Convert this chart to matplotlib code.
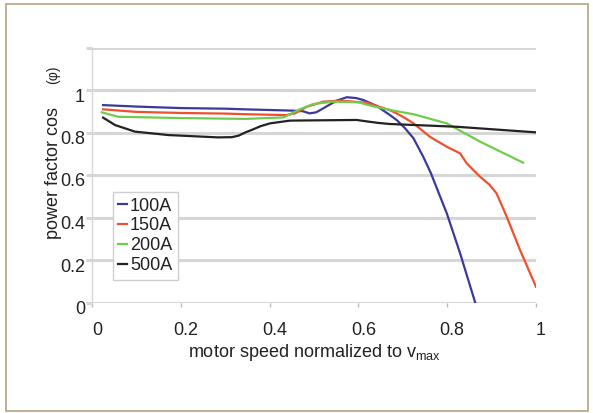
import numpy as np
import matplotlib.pyplot as plt
import matplotlib.transforms as mtransforms
from matplotlib.patches import Rectangle

# power factor vs normalized motor speed

x_100 = [0.025, 0.1, 0.2, 0.3, 0.345, 0.45, 0.475, 0.49, 0.505, 0.521, 0.551, 0.574, 0.595, 0.611,
         0.641, 0.671, 0.686, 0.705, 0.724, 0.746, 0.763, 0.78, 0.799, 0.829, 0.863]
y_100 = [0.929, 0.922, 0.915, 0.912, 0.909, 0.903, 0.900, 0.890, 0.895, 0.914, 0.950, 0.966, 0.962, 0.953,
         0.925, 0.882, 0.859, 0.820, 0.773, 0.686, 0.610, 0.520, 0.420, 0.232, 0.0]

x_150 = [0.025, 0.1, 0.2, 0.3, 0.345, 0.438, 0.457, 0.484, 0.521, 0.559, 0.619, 0.671,
         0.686, 0.705, 0.724, 0.761, 0.799, 0.829, 0.844, 0.874, 0.896, 0.911, 0.934, 0.964, 1.0]
y_150 = [0.909, 0.897, 0.892, 0.889, 0.886, 0.882, 0.890, 0.921, 0.945, 0.950, 0.940, 0.905,
         0.890, 0.868, 0.843, 0.780, 0.733, 0.702, 0.655, 0.592, 0.553, 0.514, 0.404, 0.247, 0.074]

x_200 = [0.022, 0.059, 0.2, 0.345, 0.431, 0.45, 0.468, 0.498, 0.543, 0.6, 0.63, 0.671,
         0.724, 0.799, 0.874, 0.971]
y_200 = [0.895, 0.874, 0.868, 0.864, 0.871, 0.89, 0.909, 0.934, 0.945, 0.942, 0.925, 0.906,
         0.886, 0.843, 0.757, 0.658]

x_500 = [0.025, 0.052, 0.097, 0.172, 0.284, 0.315, 0.33, 0.345, 0.363, 0.38, 0.401, 0.446, 0.596, 0.62,
         0.645, 0.671, 0.821, 0.998]
y_500 = [0.870, 0.835, 0.804, 0.788, 0.777, 0.778, 0.785, 0.800, 0.815, 0.830, 0.843, 0.856, 0.859, 0.852,
         0.845, 0.840, 0.827, 0.801]

labels = ["100A", "150A", "200A", "500A"]
colors = ["#3b3a9c", "#f0502e", "#6fcc4c", "#222222"]

plt.rcParams['font.family'] = ['Liberation Sans', 'DejaVu Sans']
text_col = "#222222"
grid_col = "#d6d6d6"

fig = plt.figure(figsize=(5.93, 4.13), dpi=100)
ax = fig.add_axes([92 / 593, 1 - 302.5 / 413, 444 / 593, 255 / 413])

# tan frame round the whole picture
fig.patches.append(Rectangle((6 / 593, 2 / 413), 582 / 593, 407 / 413, transform=fig.transFigure,
                             fill=False, edgecolor="#bba98a", linewidth=1.3))

for xs, ys, lab, c in zip([x_100, x_150, x_200, x_500], [y_100, y_150, y_200, y_500], labels, colors):
    ax.plot(xs, ys, color=c, linewidth=1.6, label=lab)

ax.set_xlim(0, 1)
ax.set_ylim(0, 1.2)
ax.set_xticks([0, 0.2, 0.4, 0.6, 0.8, 1])
ax.set_xticklabels(["0", "0.2", "0.4", "0.6", "0.8", "1"])
ax.set_yticks([0, 0.2, 0.4, 0.6, 0.8, 1, 1.2])
ax.set_yticklabels(["0", "0.2", "0.4", "0.6", "0.8", "1", ""])
ax.grid(axis="y", color=grid_col, linewidth=2.2)
ax.set_axisbelow(True)

for s in ["top", "right", "bottom"]:
    ax.spines[s].set_visible(False)
ax.spines["left"].set_color(grid_col)
ax.spines["left"].set_linewidth(1)

ax.tick_params(axis="y", length=4, color=grid_col, width=2.2, pad=1, labelsize=13, labelcolor=text_col)
ax.tick_params(axis="x", length=3, color="#bbbbbb", width=1, pad=11, labelsize=13, labelcolor=text_col)

# y labels sit a little below their gridlines in the reference
shift = mtransforms.ScaledTranslation(0, -5 / 100, fig.dpi_scale_trans)
for t in ax.get_yticklabels():
    t.set_transform(t.get_transform() + shift)
shift_x = mtransforms.ScaledTranslation(5 / 100, 0, fig.dpi_scale_trans)
for t in ax.get_xticklabels():
    t.set_transform(t.get_transform() + shift_x)

ax.set_xlabel("motor speed normalized to v$_{\\mathregular{max}}$", fontsize=13, color=text_col, labelpad=2)

fig.text(53 / 593, 1 - 173 / 413, "power factor cos", rotation=90, fontsize=13, color=text_col,
         ha="center", va="center")
fig.text(53 / 593, 1 - 75 / 413, "(\u03c6)", rotation=90, fontsize=10, color=text_col,
         ha="center", va="center")

leg = ax.legend(loc="upper left", bbox_to_anchor=(0.047, 0.433), borderaxespad=0,
                fontsize=13, handlelength=0.5, handletextpad=0.15, labelspacing=0.16,
                borderpad=0.3, fancybox=False, framealpha=1)
leg.get_frame().set_edgecolor("#cfcfcf")
leg.get_frame().set_linewidth(1)
for t in leg.get_texts():
    t.set_color(text_col)

fig.savefig("out.png", dpi=100)
